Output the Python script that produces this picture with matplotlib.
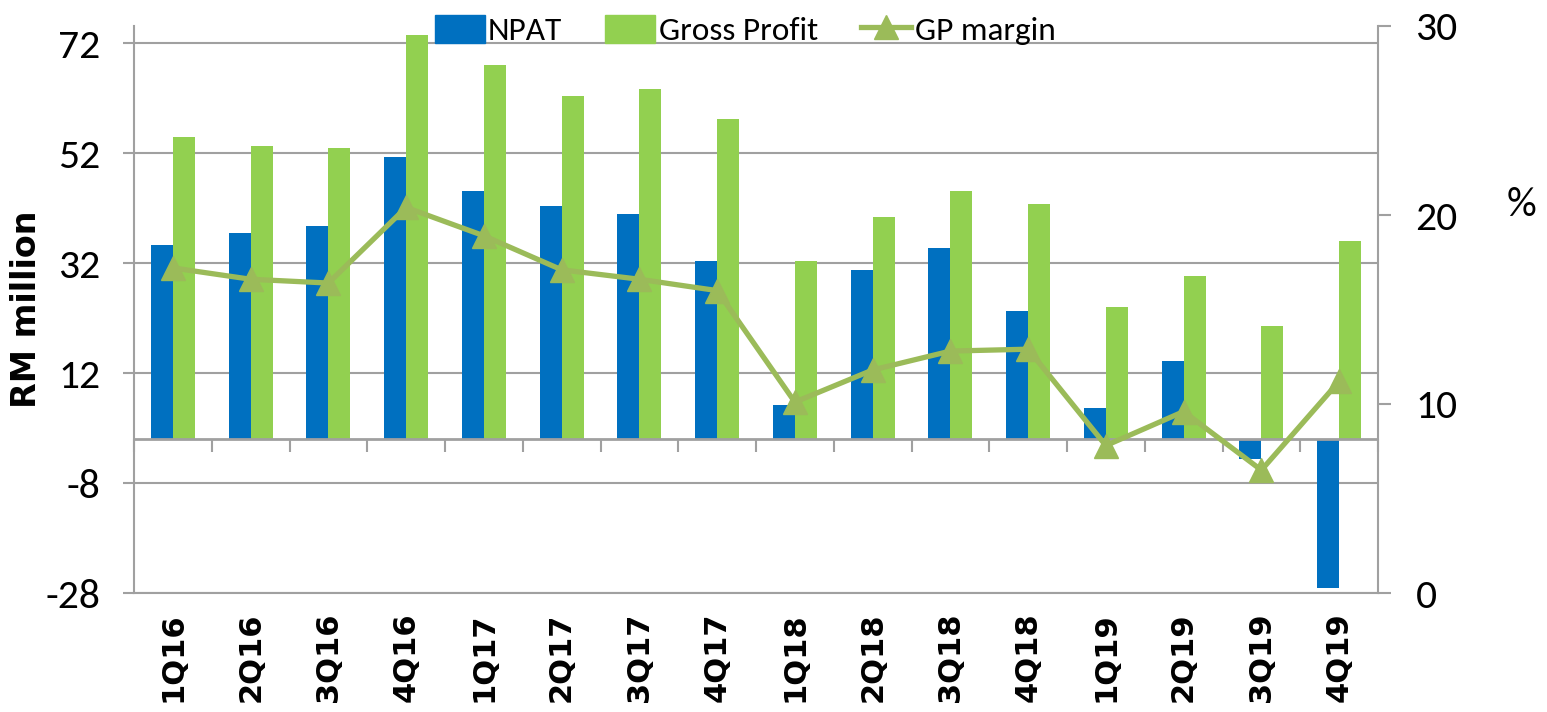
import matplotlib
matplotlib.use("Agg")
import matplotlib.pyplot as plt
from matplotlib.patches import Patch
from matplotlib.lines import Line2D
import numpy as np

# ---- data (RM million / %) ----
quarters = ['1Q16', '2Q16', '3Q16', '4Q16', '1Q17', '2Q17', '3Q17', '4Q17',
            '1Q18', '2Q18', '3Q18', '4Q18', '1Q19', '2Q19', '3Q19', '4Q19']
npat = [35.3, 37.5, 38.7, 51.3, 45.1, 42.4, 40.9, 32.4,
        6.2, 30.7, 34.7, 23.3, 5.7, 14.1, -3.7, -27.1]
gross_profit = [54.9, 53.3, 52.9, 73.5, 68.0, 62.4, 63.6, 58.2,
                32.3, 40.4, 45.1, 42.7, 24.0, 29.6, 20.5, 36.0]
gp_margin = [17.2, 16.6, 16.4, 20.4, 18.9, 17.1, 16.6, 16.0,
             10.1, 11.8, 12.8, 12.9, 7.8, 9.6, 6.5, 11.2]

left_ticks = [-28, -8, 12, 32, 52, 72]
right_ticks = [0, 10, 20, 30]

BLUE = '#0070C0'
GREEN = '#92D050'
LINE = '#9BBB59'
GRAY = '#A0A0A0'
NARROW = ['Carlito', 'Lato', 'DejaVu Sans']

fig = plt.figure(figsize=(15.47, 7.12), dpi=100)
ax = fig.add_axes([134/1547, 1 - 593/712, (1378 - 134)/1547, (593 - 26)/712])
ax2 = ax.twinx()

x = np.arange(len(quarters))
w = 0.283
ax.bar(x - w/2, npat, w, color=BLUE, zorder=3)
ax.bar(x + w/2, gross_profit, w, color=GREEN, zorder=3)
ax.axhline(0, color=GRAY, lw=2, zorder=4)

ax2.plot(x, gp_margin, color=LINE, lw=3.8, marker='^', markersize=17, zorder=5)

# left axis
ax.set_xlim(-0.5, len(quarters) - 0.5)
ax.set_ylim(-28, 75.1)
ax.set_yticks(left_ticks)
ax.set_yticklabels([str(t) for t in left_ticks], family=NARROW, fontsize=30)
ax.yaxis.grid(True, color=GRAY, lw=1.5, zorder=0)
ax.set_axisbelow(True)
ax.tick_params(axis='y', length=8, width=1.5, color=GRAY, pad=16)

ax.set_xticks(x)
ax.set_xticklabels(quarters, rotation=90, fontsize=22, fontweight='bold',
                   family='DejaVu Sans', va='top', ha='center')
ax.tick_params(axis='x', length=0, pad=14)

for s in ['left', 'bottom']:
    ax.spines[s].set_color(GRAY)
    ax.spines[s].set_linewidth(1.5)
ax.spines['top'].set_visible(False)
ax.spines['right'].set_visible(False)

fig.text(27/1547, 1 - 309/712, 'RM million', rotation=90, fontsize=24,
         fontweight='bold', family='DejaVu Sans', ha='center', va='center')

# category boundary ticks on the zero line
sec = ax.secondary_xaxis(0, transform=ax.transData)
sec.set_xticks(np.arange(-0.5, len(quarters), 1))
sec.set_xticklabels([])
sec.tick_params(length=9, width=1.5, color=GRAY, direction='out')
sec.spines['bottom'].set_visible(False)

# right axis
ax2.set_ylim(0, 30)
ax2.set_yticks(right_ticks)
ax2.set_yticklabels([str(t) for t in right_ticks], family=NARROW, fontsize=30)
ax2.tick_params(axis='y', length=9, width=1.5, color=GRAY, pad=18)
ax2.spines['right'].set_color(GRAY)
ax2.spines['right'].set_linewidth(1.5)
for s in ['left', 'top', 'bottom']:
    ax2.spines[s].set_visible(False)

fig.text(1522/1547, 1 - 205/712, '%', fontsize=30, family=NARROW, ha='center', va='center')

handles = [Patch(color=BLUE), Patch(color=GREEN),
           Line2D([], [], color=LINE, lw=3.8, marker='^', markersize=17)]
fig.legend(handles, ['NPAT', 'Gross Profit', 'GP margin'], loc='center',
           bbox_to_anchor=(745/1547, 1 - 30/712), ncol=3, frameon=False,
           prop={'family': NARROW, 'size': 24}, handlelength=1.5, handleheight=0.9,
           handletextpad=0.1, columnspacing=1.3, borderaxespad=0)

fig.savefig('out.png', dpi=100)
